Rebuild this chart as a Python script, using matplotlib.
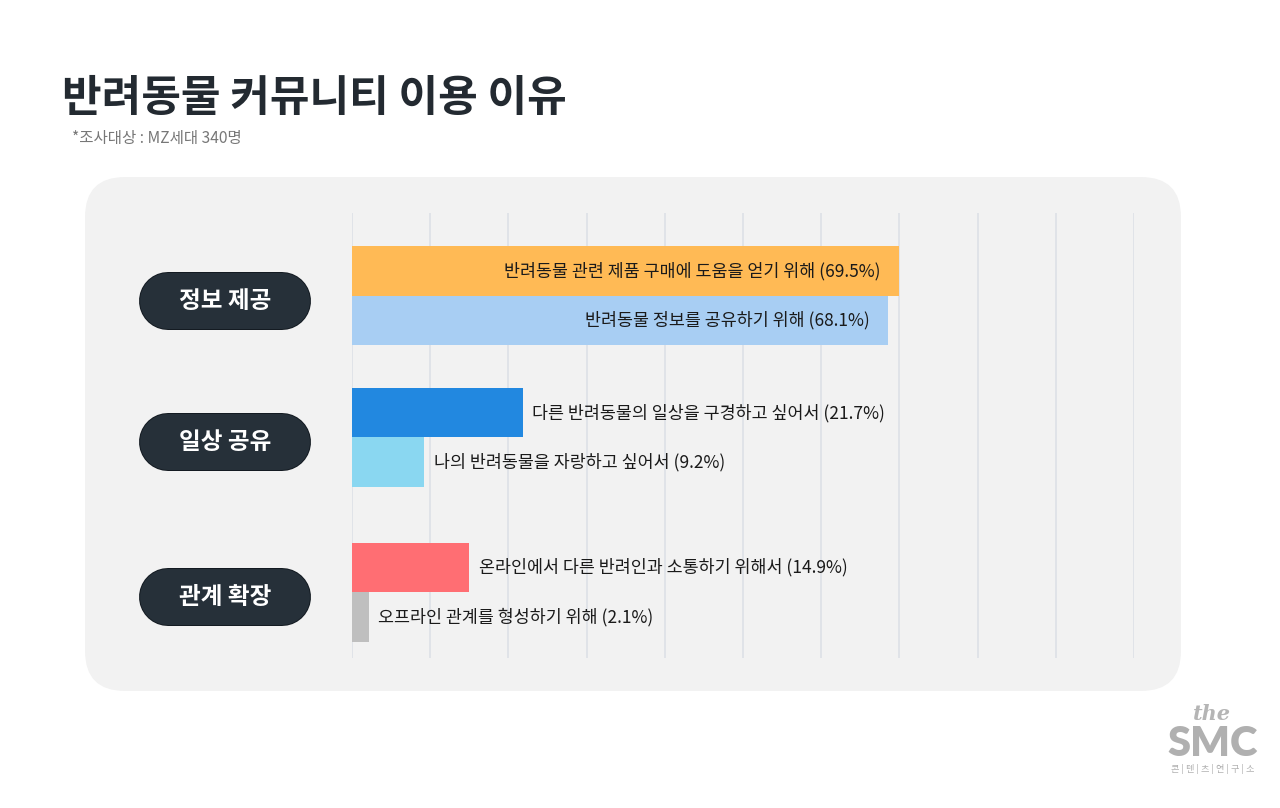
import numpy as np
import matplotlib.pyplot as plt
from matplotlib.patches import FancyBboxPatch

plt.rcParams['font.family'] = ['Noto Sans CJK KR', 'DejaVu Sans']

# data
groups = ['정보 제공', '일상 공유', '관계 확장']
reasons = [
    ['반려동물 관련 제품 구매에 도움을 얻기 위해', '반려동물 정보를 공유하기 위해'],
    ['다른 반려동물의 일상을 구경하고 싶어서', '나의 반려동물을 자랑하고 싶어서'],
    ['온라인에서 다른 반려인과 소통하기 위해서', '오프라인 관계를 형성하기 위해'],
]
values = [[69.5, 68.1], [21.7, 9.2], [14.9, 2.1]]
colors = [['#FFBA55', '#A8CEF3'], ['#2288E0', '#8AD7F1'], ['#FF6E73', '#BFBFBF']]
inside_label = [True, False, False]

W, H = 1280, 808
fig = plt.figure(figsize=(W / 100, H / 100), dpi=100, facecolor='white')

# background axes in pixel units for the panel and the pills
bg = fig.add_axes([0, 0, 1, 1], zorder=-1)
bg.set_xlim(0, W)
bg.set_ylim(H, 0)
bg.axis('off')
bg.add_patch(FancyBboxPatch((85, 177), 1181 - 85, 691 - 177,
                            boxstyle='round,pad=0,rounding_size=40',
                            facecolor='#F2F2F2', edgecolor='none'))

ax = fig.add_axes([352 / W, 1 - 658 / H, (1134 - 352) / W, (658 - 213) / H])
ax.set_facecolor('none')
xmax = 99.4
ax.set_xlim(0, xmax)
ax.set_ylim(9.0, 0)
for s in ax.spines.values():
    s.set_visible(False)
ax.set_xticks([])
ax.set_yticks([])
for gx in np.linspace(0, xmax, 11):
    ax.axvline(gx, color='#DDE1E6', lw=1.2, zorder=0)

group_pos = [1.67, 4.54, 7.67]
to_px = ax.transData + bg.transData.inverted()
px_to_pt = 72 / 100
for gi, g in enumerate(groups):
    center = group_pos[gi]
    for bi in range(2):
        y = center - 0.5 + bi
        v = values[gi][bi]
        ax.barh(y, v, height=1.0, color=colors[gi][bi], zorder=2)
        label = f'{reasons[gi][bi]} ({v}%)'
        if inside_label[gi]:
            ax.text(v - 2.3, y, label, ha='right', va='center', fontsize=12.5,
                    color='#1A1A1A', zorder=3)
        else:
            ax.text(v + 1.2, y, label, ha='left', va='center', fontsize=12.5,
                    color='#1A1A1A', zorder=3)

    # category pill: a thick line with round caps
    py = to_px.transform((0, center + 0.1))[1]
    bg.plot([139 + 29, 311 - 29], [py, py], color='#141B22',
            lw=58 * px_to_pt, solid_capstyle='round')
    bg.plot([139 + 29, 311 - 29], [py, py], color='#263039',
            lw=56 * px_to_pt, solid_capstyle='round')
    bg.text(225, py, g, ha='center', va='center',
            fontsize=17, fontweight='bold', color='white')

# title and note
fig.text(62 / W, 1 - 98 / H, '반려동물 커뮤니티 이용 이유', fontsize=31,
         fontweight='heavy', color='#232A31', va='center', ha='left')
fig.text(72 / W, 1 - 138 / H, '*조사대상 : MZ세대 340명', fontsize=11.2,
         color='#777777', va='center', ha='left')

# logo
fig.text(1212 / W, 1 - 714 / H, 'the', fontsize=15, style='italic',
         fontweight='bold', family='DejaVu Serif', color='#B5B5B5',
         ha='center', va='center')
fig.text(1213 / W, 1 - 744 / H, 'SMC', fontsize=30, fontweight='heavy',
         family='Lato', color='#B0B0B0', ha='center', va='center')
fig.text(1213 / W, 1 - 769 / H, '콘 | 텐 | 츠 | 연 | 구 | 소', fontsize=6.6,
         color='#B0B0B0', ha='center', va='center')

fig.savefig('out.png', dpi=100, facecolor='white')
